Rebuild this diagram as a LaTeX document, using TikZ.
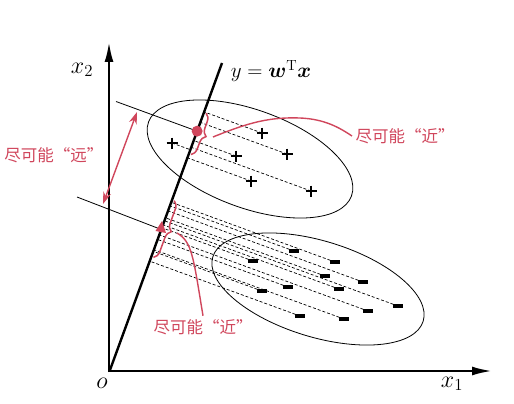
\RequirePackage{fix-cm}
\documentclass[tikz,border=0pt]{standalone}
\usepackage{amsmath,bm}
\usepackage{fontspec}
\newfontfamily\cjk{Noto Sans CJK SC}
\usetikzlibrary{calc,arrows.meta,decorations.pathreplacing}
\definecolor{nearred}{RGB}{208,70,92}
\tikzset{
    axis/.style={line width=2.4pt,-{Latex[length=20pt,width=9pt]}},
    proj/.style={dash pattern=on 3pt off 2pt,line width=0.7pt},
    bound/.style={line width=0.8pt},
    redbrace/.style={nearred,line width=1.5pt,decorate,decoration={brace,amplitude=8pt}},
    redline/.style={nearred,line width=1.4pt},
    redlabel/.style={nearred,font=\cjk\fontsize{16.5}{19}\selectfont},
    axlabel/.style={font=\fontsize{24}{28}\selectfont}
}
\newcommand{\plusmark}[1]{\draw[line width=1.8pt] (#1) +(-5.5,0) -- +(5.5,0) +(0,-5.5) -- +(0,5.5);}
\newcommand{\minusmark}[1]{\fill (#1) +(-5,-1.7) rectangle +(5,1.7);}

\begin{document}
\begin{tikzpicture}[x=1pt,y=-1pt]
    \useasboundingbox (0,0) rectangle (514,404);

    % Axes
    \coordinate (o) at (110,370);
    \coordinate (x1end) at (492,371);
    \coordinate (x2end) at (109,42);
    \draw[axis] (108,371) -- (x1end);
    \draw[axis] (109,372) -- (x2end);
    \node[axlabel] (x1lbl) at (452,384) {$x_1$};
    \node[axlabel] (x2lbl) at (82,70) {$x_2$};
    \node[axlabel] (olbl) at (102,383) {$o$};

    % Projection direction
    \coordinate (wt) at (222,63);
    \draw[line width=2.4pt] (o) -- (wt);
    \node[font=\fontsize{21}{25}\selectfont] (wlbl) at (271,71) {$y=\bm{w}^{\mathrm{T}}\bm{x}$};

    % Classes
    \draw[bound,rotate around={-20:(250,159)}] (250,159) ellipse [x radius=108pt,y radius=49pt];
    \draw[bound,rotate around={-17:(318,289)}] (318,289) ellipse [x radius=110pt,y radius=48pt];

    \foreach \x/\y [count=\i] in {172/143,262/133,287/154,236/156,251/181,311/191} {
        \coordinate (p\i) at (\x,\y);
        \draw[proj] (p\i) -- ($(o)!(p\i)!(wt)$);
        \plusmark{p\i}
    }
    \foreach \x/\y [count=\i] in {294/251,253/261,335/262,325/276,363/282,262/291,
                                  288/287,339/289,398/306,368/311,300/316,344/319} {
        \coordinate (m\i) at (\x,\y);
        \draw[proj] (m\i) -- ($(o)!(m\i)!(wt)$);
        \minusmark{m\i}
    }

    % Centres and their projections
    \coordinate (dot) at ($(o)!0.778!(wt)$);
    \coordinate (ua) at (116,101.5);
    \coordinate (la) at (77,197);
    \coordinate (tri) at (160,229);
    \draw[bound] (ua) -- (dot);
    \draw[bound] (la) -- (tri);
    \fill[nearred] (dot) circle [radius=5.5pt];
    \fill[nearred] (162,221) -- (166,233) -- (155.5,231) -- cycle;

    % Far apart
    \coordinate (fa) at (137,112);
    \coordinate (fb) at (103,204);
    \draw[redline,{Stealth[length=12pt,width=8pt]}-{Stealth[length=12pt,width=8pt]}] (fa) -- (fb);
    \node[redlabel] (farlbl) at (54,155) {尽可能“远”};

    % Close together
    \draw[redbrace] ($(o)!0.84!(wt)+(2,1)$) -- ($(o)!0.705!(wt)+(2,1)$);
    \draw[redbrace] ($(o)!0.555!(wt)+(2,1)$) -- ($(o)!0.37!(wt)+(2,1)$);
    \node[redlabel] (nearup) at (405,136) {尽可能“近”};
    \node[redlabel] (nearlow) at (203,327) {尽可能“近”};
    \coordinate (ubtip) at (213,137);
    \coordinate (lbtip) at (177,233);
    \draw[redline] (ubtip) .. controls (250,122) and (270,117) .. (300,118)
        .. controls (325,119) and (340,128) .. (nearup.west);
    \draw[redline] (lbtip) .. controls (192,242) and (193,255) .. (nearlow.north);
\end{tikzpicture}
\end{document}
